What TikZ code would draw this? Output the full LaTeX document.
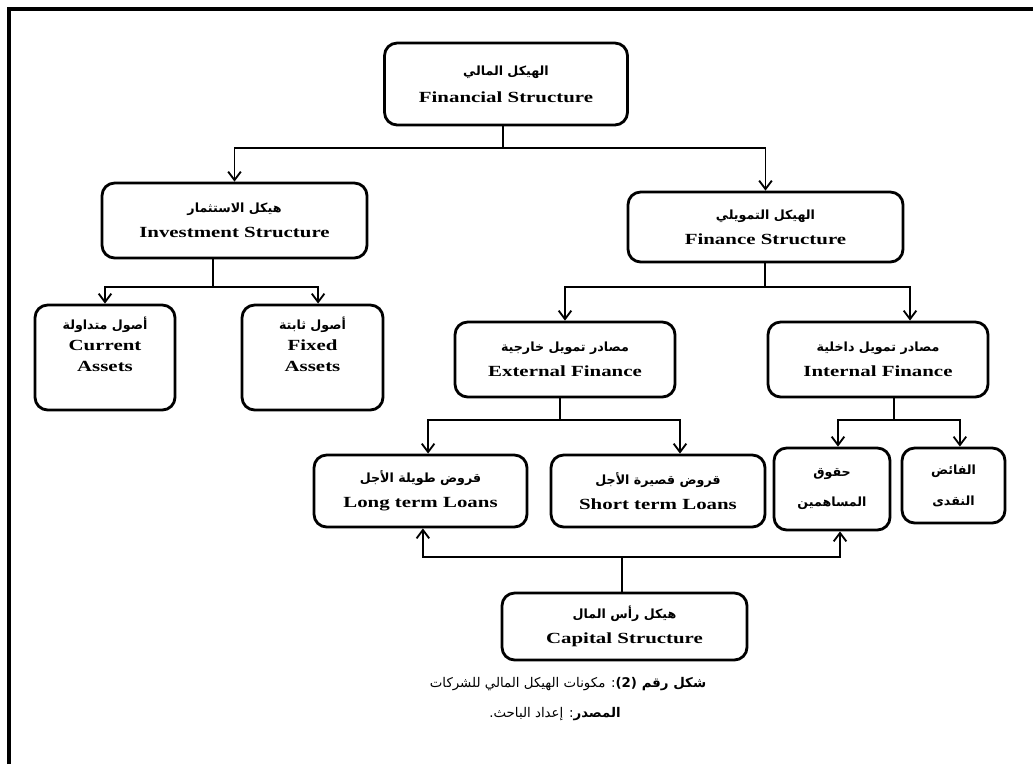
\documentclass[tikz,border=0pt]{standalone}
\usepackage{fontspec}
\setmainfont{Liberation Serif}[FakeStretch=1.35]
\newfontfamily\arabicfont[Script=Arabic]{DejaVu Sans}
\TeXXeTstate=1
\usetikzlibrary{arrows.meta}

\newcommand{\ar}[1]{{\arabicfont\fontsize{9}{12}\selectfont\beginR #1\endR}}

\tikzset{
  box/.style={draw, line width=2pt, rounded corners=9pt, align=center,
    inner sep=2pt, font=\bfseries\fontsize{11}{15}\selectfont},
  sz/.style 2 args={minimum width=#1*0.025cm, minimum height=#2*0.025cm},
  wire/.style={line width=1.3pt},
  arr/.style={wire, -{Straight Barb[length=6pt,width=9pt,line width=1.3pt]}},
}

\begin{document}
\begin{tikzpicture}[x=0.025cm, y=-0.025cm]
  \useasboundingbox (0,0) rectangle (1033,764);
  \draw[line width=3pt] (9,764) -- (9,9) -- (1033,9);

  % boxes
  \node[box, sz={243}{82}] (fin) at (506,84) {\ar{الهيكل المالي}\\[4pt] Financial Structure};
  \node[box, sz={265}{75}] (inv) at (234.5,220.5) {\ar{هيكل الاستثمار}\\[3pt] Investment Structure};
  \node[box, sz={275}{70}] (fina) at (765.5,227) {\ar{الهيكل التمويلي}\\[3pt] Finance Structure};
  \node[box, sz={140}{105}] (cur) at (105,357.5) {\ar{أصول متداولة}\\ Current\\ Assets\\[4pt]};
  \node[box, sz={141}{105}] (fix) at (312.5,357.5) {\ar{أصول ثابتة}\\ Fixed\\ Assets\\[4pt]};
  \node[box, sz={220}{75}] (ext) at (565,359.5) {\ar{مصادر تمويل خارجية}\\[3pt] External Finance};
  \node[box, sz={220}{75}] (int) at (878,359.5) {\ar{مصادر تمويل داخلية}\\[3pt] Internal Finance};
  \node[box, sz={213}{72}] (lng) at (420.5,491) {\ar{قروض طويلة الأجل}\\[3pt] Long term Loans};
  \node[box, sz={214}{72}] (sht) at (658,491) {\ar{قروض قصيرة الأجل}\\[3pt] Short term Loans};
  \node[box, sz={116}{82}] (shr) at (832,489) {\ar{حقوق}\\[7pt] \ar{المساهمين}};
  \node[box, sz={103}{75}] (csh) at (953.5,485.5) {\ar{الفائض}\\[7pt] \ar{النقدى}};
  \node[box, sz={245}{67}] (cap) at (624.5,626.5) {\ar{هيكل رأس المال}\\[3pt] Capital Structure};

  % caption
  \node (cap1) at (568,684) {{\arabicfont\fontsize{9.5}{12}\selectfont\beginR\textbf{شكل رقم \beginL(2)\endL}: مكونات الهيكل المالي للشركات\endR}};
  \node (cap2) at (555,714) {{\arabicfont\fontsize{9.5}{12}\selectfont\beginR\textbf{المصدر}: إعداد الباحث.\endR}};

  % connectors
  \coordinate (j1) at (503,148);
  \draw[wire] (fin.south -| j1) -- (j1);
  \draw[arr] (j1) -| (inv.north);
  \draw[arr] (j1) -| (fina.north);

  \coordinate (j2) at (213,287);
  \draw[wire] (inv.south -| j2) -- (j2);
  \draw[arr] (j2) -| (cur.north);
  \draw[arr] (j2) -| ([xshift=0.14cm]fix.north);

  \coordinate (j3) at (765,287);
  \draw[wire] (fina.south -| j3) -- (j3);
  \draw[arr] (j3) -| (ext.north);
  \draw[arr] (j3) -| ([xshift=0.8cm]int.north);

  \coordinate (j4) at (560,420);
  \draw[wire] (ext.south -| j4) -- (j4);
  \draw[arr] (j4) -| ([xshift=0.19cm]lng.north);
  \draw[arr] (j4) -| ([xshift=0.55cm]sht.north);

  \coordinate (j5) at (894,420);
  \draw[wire] (int.south -| j5) -- (j5);
  \draw[arr] (j5) -| ([xshift=0.15cm]shr.north);
  \draw[arr] (j5) -| ([xshift=0.16cm]csh.north);

  \coordinate (j6) at (622,557);
  \draw[wire] (cap.north -| j6) -- (j6);
  \draw[arr] (j6) -| ([xshift=0.06cm]lng.south);
  \draw[arr] (j6) -| ([xshift=0.2cm]shr.south);
\end{tikzpicture}
\end{document}
